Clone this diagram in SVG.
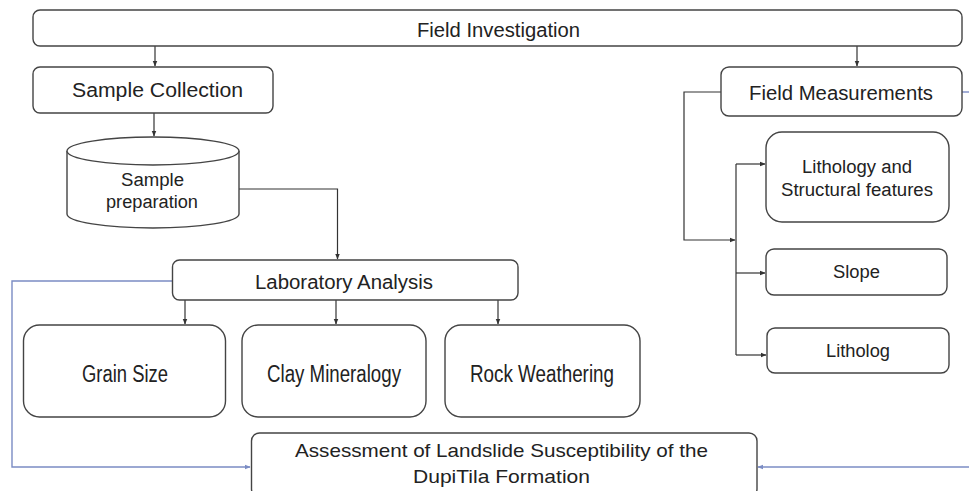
<svg xmlns="http://www.w3.org/2000/svg" width="969" height="491" viewBox="0 0 969 491">
<defs>
<marker id="ah" viewBox="0 0 10 10" refX="9" refY="5" markerWidth="6" markerHeight="6" orient="auto" markerUnits="userSpaceOnUse"><path d="M0,1 L10,5 L0,9 z" fill="#333"/></marker>
<marker id="ahb" viewBox="0 0 10 10" refX="9" refY="5" markerWidth="6" markerHeight="6" orient="auto" markerUnits="userSpaceOnUse"><path d="M0,1 L10,5 L0,9 z" fill="#7b8cc4"/></marker>
</defs>
<style>
.box{fill:#fff;stroke:#444;stroke-width:1.4}
.t{font-family:"Liberation Sans",Arial,sans-serif;fill:#222;text-anchor:middle}
.c{fill:none;stroke:#333;stroke-width:1.2}
.b{fill:none;stroke:#7b8cc4;stroke-width:1.4}
</style>
<rect width="969" height="491" fill="#fff"/>
<g id="connectors">
<line class="c" x1="155" y1="46" x2="155" y2="66" marker-end="url(#ah)"/>
<line class="c" x1="857" y1="46" x2="857" y2="66" marker-end="url(#ah)"/>
<line class="c" x1="154" y1="113" x2="154" y2="136" marker-end="url(#ah)"/>
<polyline class="c" points="239,189 337.5,189 337.5,259" marker-end="url(#ah)"/>
<line class="c" x1="185" y1="300" x2="185" y2="324" marker-end="url(#ah)"/>
<line class="c" x1="336" y1="300" x2="336" y2="324" marker-end="url(#ah)"/>
<line class="c" x1="498" y1="300" x2="498" y2="324" marker-end="url(#ah)"/>
<polyline class="c" points="721,92 684,92 684,240 735,240" marker-end="url(#ah)"/>
<line class="c" x1="736" y1="164" x2="736" y2="355"/>
<line class="c" x1="736" y1="164" x2="765" y2="164" marker-end="url(#ah)"/>
<line class="c" x1="736" y1="273" x2="765" y2="273" marker-end="url(#ah)"/>
<line class="c" x1="736" y1="355" x2="766" y2="355" marker-end="url(#ah)"/>
<polyline class="b" points="172,281 12,281 12,467 250,467" marker-end="url(#ahb)"/>
<line class="b" x1="962" y1="92" x2="969" y2="92"/>
<line class="b" x1="969" y1="467" x2="758" y2="467" marker-end="url(#ahb)"/>
</g>
<g id="field-investigation">
<rect class="box" x="33" y="10" width="929" height="36" rx="7"/>
<text class="t" x="498.5" y="36.5" font-size="20" textLength="163" lengthAdjust="spacingAndGlyphs">Field Investigation</text>
</g>
<g id="sample-collection">
<rect class="box" x="33" y="67" width="240" height="46" rx="7"/>
<text class="t" x="157.5" y="96.5" font-size="20" textLength="171" lengthAdjust="spacingAndGlyphs">Sample Collection</text>
</g>
<g id="sample-preparation">
<path class="box" d="M67,151 L67,214 A86,14 0 0 0 239,214 L239,151 A86,14 0 0 0 67,151 Z"/>
<path class="box" d="M67,151 A86,14 0 0 0 239,151" fill="none"/>
<text class="t" x="152.5" y="186" font-size="18" textLength="63" lengthAdjust="spacingAndGlyphs">Sample</text>
<text class="t" x="152" y="207.5" font-size="18" textLength="92" lengthAdjust="spacingAndGlyphs">preparation</text>
</g>
<g id="laboratory-analysis">
<rect class="box" x="172.5" y="260" width="345.5" height="40" rx="7"/>
<text class="t" x="344" y="289" font-size="20" textLength="178" lengthAdjust="spacingAndGlyphs">Laboratory Analysis</text>
</g>
<g id="grain-size">
<rect class="box" x="23.5" y="325" width="202" height="92" rx="16"/>
<text class="t" x="125" y="382" font-size="23" textLength="86" lengthAdjust="spacingAndGlyphs">Grain Size</text>
</g>
<g id="clay-mineralogy">
<rect class="box" x="242" y="325" width="184" height="92" rx="16"/>
<text class="t" x="334" y="382" font-size="23" textLength="134" lengthAdjust="spacingAndGlyphs">Clay Mineralogy</text>
</g>
<g id="rock-weathering">
<rect class="box" x="445" y="325" width="195" height="92" rx="16"/>
<text class="t" x="542" y="382" font-size="23" textLength="144" lengthAdjust="spacingAndGlyphs">Rock Weathering</text>
</g>
<g id="assessment">
<rect class="box" x="251.5" y="433" width="505.5" height="64" rx="8"/>
<text class="t" x="501.5" y="456.5" font-size="19" textLength="413" lengthAdjust="spacingAndGlyphs">Assessment of Landslide Susceptibility of the</text>
<text class="t" x="501.5" y="483" font-size="19" textLength="177" lengthAdjust="spacingAndGlyphs">DupiTila Formation</text>
</g>
<g id="field-measurements">
<rect class="box" x="721" y="67" width="241" height="49" rx="8"/>
<text class="t" x="841" y="100" font-size="20" textLength="184" lengthAdjust="spacingAndGlyphs">Field Measurements</text>
</g>
<g id="lithology-structural">
<rect class="box" x="766" y="132" width="183" height="90" rx="16"/>
<text class="t" x="857" y="173" font-size="18" textLength="110" lengthAdjust="spacingAndGlyphs">Lithology and</text>
<text class="t" x="857" y="196" font-size="18" textLength="152" lengthAdjust="spacingAndGlyphs">Structural features</text>
</g>
<g id="slope">
<rect class="box" x="766" y="249" width="181" height="46" rx="8"/>
<text class="t" x="856.5" y="278" font-size="18" textLength="47" lengthAdjust="spacingAndGlyphs">Slope</text>
</g>
<g id="litholog">
<rect class="box" x="767" y="328" width="182" height="45" rx="8"/>
<text class="t" x="858" y="357" font-size="18" textLength="64" lengthAdjust="spacingAndGlyphs">Litholog</text>
</g>
</svg>
